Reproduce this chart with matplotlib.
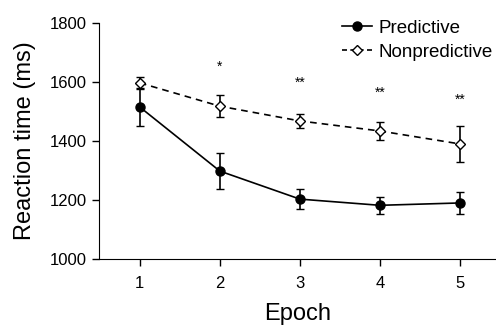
import matplotlib
matplotlib.use("Agg")
import matplotlib.pyplot as plt
from matplotlib.lines import Line2D

plt.rcParams['font.family'] = ['Liberation Sans', 'DejaVu Sans']

epochs = [1, 2, 3, 4, 5]
pred_rt = [1515, 1298, 1203, 1182, 1190]
pred_err = [65, 60, 34, 28, 36]
nonpred_rt = [1597, 1518, 1468, 1434, 1390]
nonpred_err = [20, 37, 24, 32, 60]
sig_labels = ['', '*', '**', '**', '**']
sig_y = [None, 1651, 1597, 1563, 1539]

fig = plt.figure(figsize=(4.96, 3.27), dpi=100)
ax = fig.add_axes([99/496, 1 - 259/327, 1 - 99/496, 236/327])

ax.errorbar(epochs, nonpred_rt, yerr=nonpred_err, color='black', ls='--', lw=1.2,
            marker='D', ms=5.5, mfc='white', mec='black', mew=1, capsize=3,
            elinewidth=1.2, dashes=(4, 3))
ax.errorbar(epochs, pred_rt, yerr=pred_err, color='black', ls='-', lw=1.2,
            marker='o', ms=6.5, capsize=3, elinewidth=1.2)

for x, s, y in zip(epochs, sig_labels, sig_y):
    if s:
        ax.text(x, y, s, ha='center', va='center', fontsize=10)

ax.set_xlim(0.49, 5.45)
ax.set_ylim(1000, 1800)
ax.set_xticks(epochs)
ax.set_yticks([1000, 1200, 1400, 1600, 1800])
ax.tick_params(labelsize=12, length=5, width=1, direction='out')
ax.tick_params(axis='x', pad=7)
ax.spines['top'].set_visible(False)
ax.spines['right'].set_visible(False)
ax.set_xlabel('Epoch', fontsize=17, labelpad=9)
ax.set_ylabel('Reaction time (ms)', fontsize=17, labelpad=10)

handles = [
    Line2D([], [], color='black', ls='-', lw=1.2, marker='o', ms=6.5),
    Line2D([], [], color='black', ls='--', lw=1.2, marker='D', ms=5.5,
           mfc='white', mec='black', dashes=(3, 2)),
]
ax.legend(handles, ['Predictive', 'Nonpredictive'], loc='upper right',
          bbox_to_anchor=(1.035, 1.085), frameon=False, fontsize=13.5,
          handlelength=1.6, handletextpad=0.35, labelspacing=0.35)

fig.savefig('out.png', dpi=100)
